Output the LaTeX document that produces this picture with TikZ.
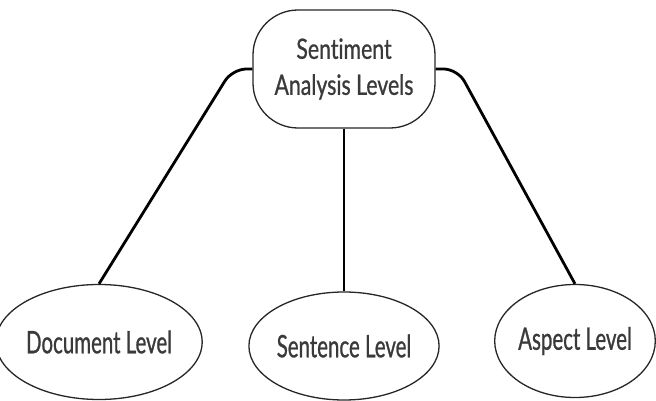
\documentclass[tikz,border=0pt]{standalone}
\usepackage{fontspec}
\setmainfont{Lato}
\newfontfamily\rootfont{Lato}[FakeStretch=0.76,FakeBold=0.8,Ligatures=NoCommon]
\newfontfamily\levelfont{Lato}[FakeStretch=0.66,FakeBold=0.8,Ligatures=NoCommon]
\usetikzlibrary{shapes.geometric}
\definecolor{labelgray}{HTML}{3A3A3A}

\begin{document}
\begin{tikzpicture}[x=1pt,y=-1pt,
    root/.style={draw=black!85,line width=1.3pt,rectangle,rounded corners=45pt,minimum width=182pt,minimum height=118pt,align=center,text=labelgray,font=\rootfont\fontsize{28}{36}\selectfont},
    level/.style={draw=black!85,line width=1.3pt,ellipse,inner sep=0pt,text=labelgray,font=\levelfont\fontsize{31}{36}\selectfont},
    link/.style={line width=2.8pt,line join=round}]
    \useasboundingbox (0,0) rectangle (656,401);
    \node[root] (levels) at (344,69) {Sentiment\\Analysis Levels};
    \node[level,minimum width=176pt,minimum height=115pt] (document) at (99,342) {Document Level};
    \node[level,minimum width=172pt,minimum height=108pt] (sentence) at (344,346) {Sentence Level};
    \node[level,minimum width=160pt,minimum height=113pt] (aspect) at (575,341) {Aspect Level};
    \draw[link,rounded corners=14pt] (levels.west) -- ++(-20,0) -- (document.north);
    \draw[link] (levels.south) -- (sentence.north);
    \draw[link,rounded corners=14pt] (levels.east) -- ++(22,0) -- (aspect.north);
\end{tikzpicture}
\end{document}
